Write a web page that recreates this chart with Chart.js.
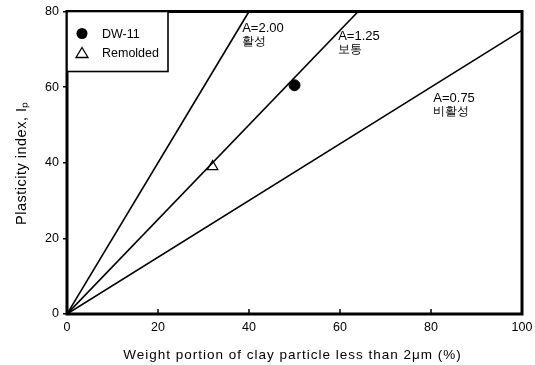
<!DOCTYPE html>
<html>
<head>
<meta charset="utf-8">
<script src="https://cdn.jsdelivr.net/npm/chart.js@4"></script>
<style>
  html, body { margin: 0; padding: 0; background: #fff; }
  #wrap { width: 535px; height: 365px; }
</style>
</head>
<body>
<div id="wrap"><canvas id="chart" width="535" height="365"></canvas></div>
<script>
// datos
const xTicks = [0, 20, 40, 60, 80, 100];
const yTicks = [0, 20, 40, 60, 80];
const lineNames = ['A=2.00', 'A=1.25', 'A=0.75'];
const lineSub = ['활성', '보통', '비활성'];
const lineX = [[0, 40], [0, 64], [0, 100]];
const lineY = [[0, 80], [0, 80], [0, 75]];
const labelX = [38.5, 59.6, 80.5];
const labelY = [74.5, 72.5, 56];
const dwX = [50];
const dwY = [60.5];
const remX = [32];
const remY = [39];
const xTitle = 'Weight portion of clay particle less than 2μm (%)';
const yTitle = 'Plasticity index, Iₚ';

const FONT = 'Liberation Sans, Arial, sans-serif';

const lineSets = lineNames.map((n, i) => ({
  label: n,
  data: lineX[i].map((x, j) => ({ x: x, y: lineY[i][j] })),
  showLine: true,
  borderColor: '#000',
  borderWidth: 1.6,
  pointRadius: 0,
  fill: false
}));

// marco, ticks internos, etiquetas, titulos y leyenda
const decor = {
  id: 'decor',
  afterDatasetsDraw(chart) {
    const { ctx, chartArea: a, scales } = chart;
    ctx.save();
    ctx.strokeStyle = '#000';
    ctx.lineWidth = 3;
    ctx.strokeRect(a.left, a.top, a.right - a.left, a.bottom - a.top);

    ctx.lineWidth = 1.5;
    xTicks.forEach(v => {
      const px = scales.x.getPixelForValue(v);
      ctx.beginPath();
      ctx.moveTo(px, a.bottom);
      ctx.lineTo(px, a.bottom - 5);
      ctx.stroke();
    });

    ctx.fillStyle = '#000';
    ctx.font = '13px ' + FONT;
    ctx.textAlign = 'left';
    ctx.textBaseline = 'alphabetic';
    lineNames.forEach((n, i) => {
      const px = scales.x.getPixelForValue(labelX[i]);
      const py = scales.y.getPixelForValue(labelY[i]);
      ctx.fillText(n, px, py);
      ctx.font = '12px ' + FONT;
      ctx.fillText(lineSub[i], px, py + 13);
      ctx.font = '13px ' + FONT;
    });

    // titulos
    ctx.font = '13.5px ' + FONT;
    ctx.letterSpacing = '1px';
    ctx.textAlign = 'center';
    ctx.textBaseline = 'middle';
    ctx.fillText(xTitle, (a.left + a.right) / 2 - 2, 355);
    ctx.translate(22, 163);
    ctx.rotate(-Math.PI / 2);
    ctx.font = '14.5px ' + FONT;
    ctx.letterSpacing = '0.5px';
    ctx.fillText(yTitle, 0, 0);
    ctx.setTransform(1, 0, 0, 1, 0, 0);
    ctx.letterSpacing = '0px';

    // leyenda
    const lw = 101, lh = 60;
    ctx.fillStyle = '#fff';
    ctx.fillRect(a.left, a.top, lw, lh);
    ctx.lineWidth = 1.6;
    ctx.strokeRect(a.left, a.top, lw, lh);
    ctx.fillStyle = '#000';
    ctx.beginPath();
    ctx.arc(a.left + 15, a.top + 22, 5.5, 0, Math.PI * 2);
    ctx.fill();
    ctx.lineWidth = 1.3;
    ctx.beginPath();
    ctx.moveTo(a.left + 15, a.top + 36);
    ctx.lineTo(a.left + 21, a.top + 46);
    ctx.lineTo(a.left + 9, a.top + 46);
    ctx.closePath();
    ctx.stroke();
    ctx.font = '12.5px ' + FONT;
    ctx.textAlign = 'left';
    ctx.textBaseline = 'middle';
    ctx.fillText('DW-11', a.left + 35, a.top + 23);
    ctx.fillText('Remolded', a.left + 35, a.top + 42);
    ctx.restore();
  }
};

new Chart(document.getElementById('chart').getContext('2d'), {
  type: 'scatter',
  data: {
    datasets: [
      ...lineSets,
      {
        label: 'DW-11',
        data: dwX.map((x, i) => ({ x: x, y: dwY[i] })),
        pointStyle: 'circle',
        pointRadius: 5.5,
        backgroundColor: '#000',
        borderColor: '#000'
      },
      {
        label: 'Remolded',
        data: remX.map((x, i) => ({ x: x, y: remY[i] })),
        pointStyle: 'triangle',
        pointRadius: 6,
        backgroundColor: '#fff',
        borderColor: '#000',
        borderWidth: 1.3
      }
    ]
  },
  options: {
    responsive: false,
    animation: false,
    layout: { padding: { left: 0, top: 11, right: 13, bottom: 0 } },
    plugins: { legend: { display: false }, tooltip: { enabled: false } },
    scales: {
      x: {
        type: 'linear',
        min: 0, max: 100,
        afterBuildTicks: s => { s.ticks = xTicks.map(v => ({ value: v })); },
        afterFit: s => { s.height = 51; s.paddingLeft = 0; s.paddingRight = 0; },
        grid: { drawOnChartArea: false, drawTicks: false },
        border: { display: false },
        ticks: { color: '#000', font: { family: FONT, size: 12.5 }, padding: 6 }
      },
      y: {
        type: 'linear',
        min: 0, max: 80,
        afterBuildTicks: s => { s.ticks = yTicks.map(v => ({ value: v })); },
        afterFit: s => { s.width = 67; },
        grid: { drawOnChartArea: false, tickLength: 4, color: '#000', lineWidth: 1.5 },
        border: { display: false },
        ticks: { color: '#000', font: { family: FONT, size: 12.5 }, padding: 4 }
      }
    }
  },
  plugins: [decor]
});
</script>
</body>
</html>
